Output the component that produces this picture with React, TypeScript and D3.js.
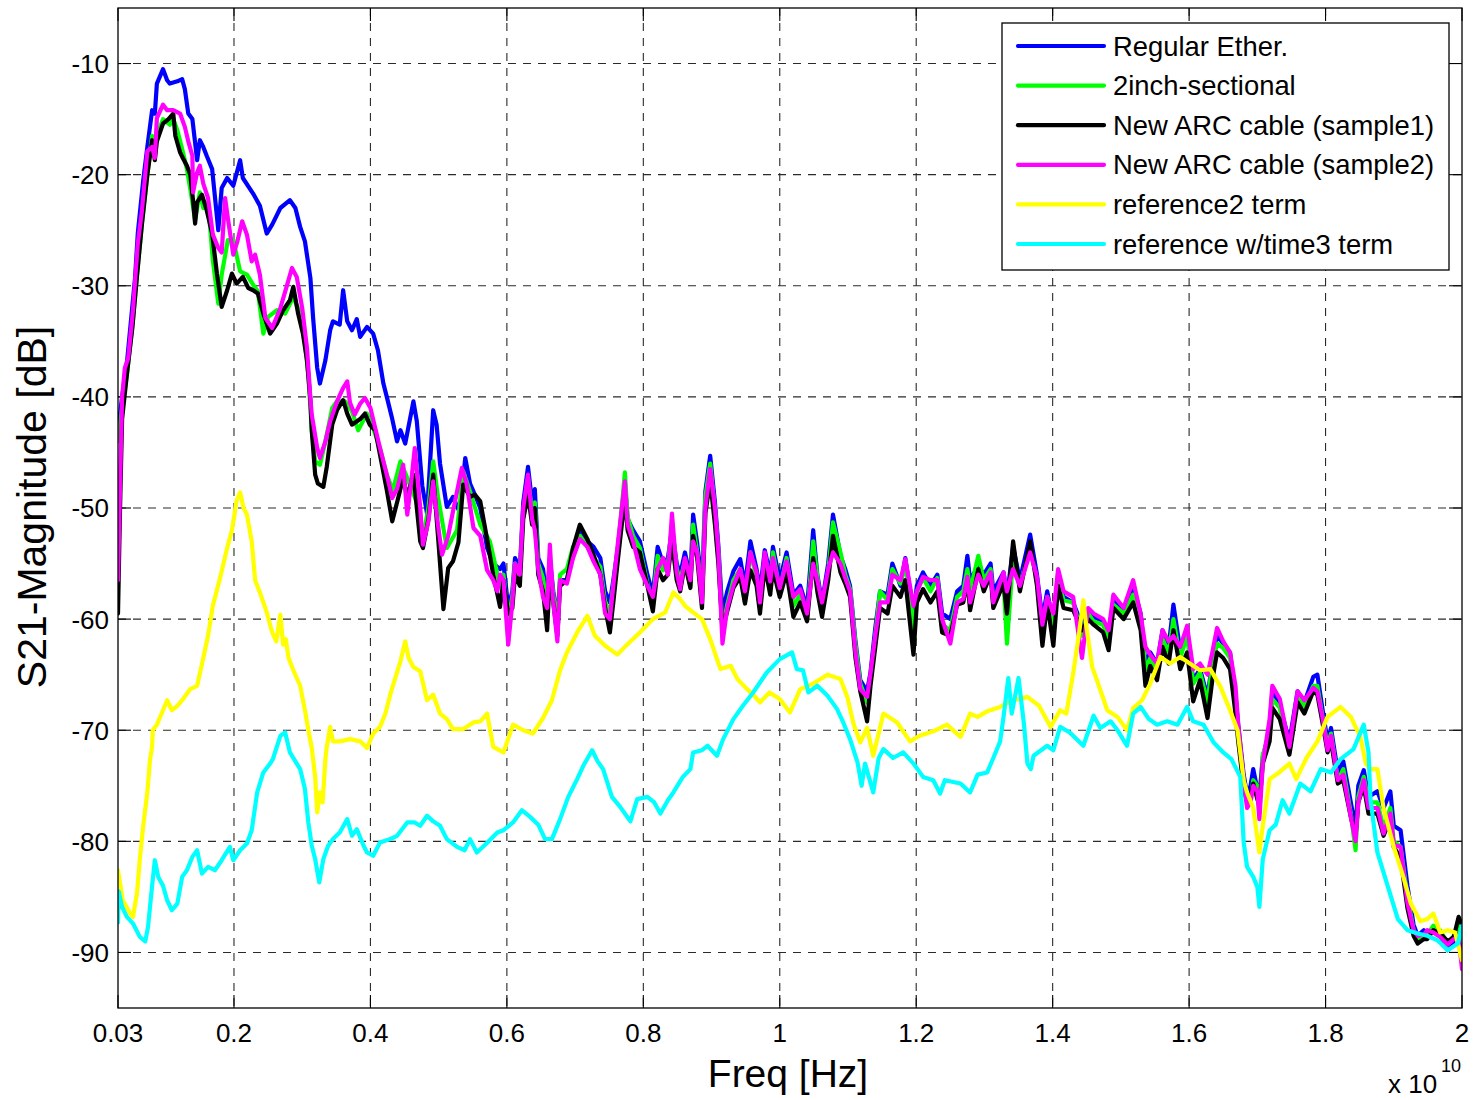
import React from "react";
import * as d3 from "d3";

type Pt = [number, number];

const xTicks = [0.03, 0.2, 0.4, 0.6, 0.8, 1, 1.2, 1.4, 1.6, 1.8, 2];
const xTickLabels = ["0.03", "0.2", "0.4", "0.6", "0.8", "1", "1.2", "1.4", "1.6", "1.8", "2"];
const yTicks = [-90, -80, -70, -60, -50, -40, -30, -20, -10];

const seriesNames = [
  "Regular Ether.",
  "2inch-sectional",
  "New ARC cable (sample1)",
  "New ARC cable (sample2)",
  "reference2 term",
  "reference w/time3 term",
];
const seriesColors = ["#0000ff", "#00ff00", "#000000", "#ff00ff", "#ffff00", "#00ffff"];

const regularEther: Pt[] = [
  [0.030,-43],[0.036,-40],[0.043,-37],[0.055,-29.3],[0.059,-25.3],[0.067,-20.5],[0.073,-17.5],[0.080,-14.2],[0.084,-14.5],[0.087,-11.8],[0.096,-10.5],[0.102,-11.5],[0.106,-11.8],[0.117,-11.6],[0.124,-11.4],[0.128,-12.3],[0.133,-14.5],[0.139,-15],[0.146,-18.7],[0.150,-16.9],[0.155,-17.5],[0.160,-18.3],[0.168,-19.5],[0.177,-25],[0.182,-21.2],[0.190,-20.3],[0.199,-21],[0.209,-18.7],[0.213,-20.3],[0.228,-21.7],[0.238,-22.8],[0.248,-25.3],[0.256,-24.5],[0.268,-23],[0.282,-22.3],[0.290,-23],[0.297,-24.7],[0.304,-26],[0.312,-29.3],[0.316,-32.9],[0.322,-37.4],[0.326,-38.8],[0.334,-36.7],[0.341,-34],[0.345,-33.2],[0.355,-33.5],[0.360,-30.4],[0.366,-33.2],[0.373,-34],[0.380,-33],[0.385,-34.6],[0.395,-33.7],[0.404,-34.3],[0.411,-35.8],[0.419,-38.8],[0.424,-40],[0.432,-42],[0.439,-44],[0.444,-43],[0.451,-44.2],[0.463,-40.4],[0.468,-42.2],[0.476,-48],[0.483,-50.5],[0.492,-41.2],[0.497,-42.5],[0.502,-46],[0.512,-49.9],[0.521,-49],[0.531,-50.4],[0.539,-45.5],[0.546,-47.8],[0.553,-48.8],[0.561,-50],[0.571,-53.6],[0.580,-55],
  [0.590,-55.5],[0.595,-55],[0.602,-59],[0.608,-57.5],[0.612,-54.5],[0.619,-55.5],[0.624,-49.5],[0.631,-46.3],[0.637,-49.5],[0.641,-48.3],[0.646,-54.5],[0.653,-55.5],[0.659,-58.5],[0.663,-54.5],[0.668,-57.5],[0.674,-60],[0.678,-56.5],[0.688,-56.5],[0.697,-53.8],[0.707,-51.8],[0.718,-53],[0.727,-53.5],[0.737,-54.5],[0.744,-57.5],[0.751,-58.5],[0.756,-56.5],[0.763,-53.4],[0.773,-47.8],[0.777,-51],[0.785,-52],[0.795,-53],[0.806,-56],[0.814,-57.8],[0.821,-53.5],[0.829,-55],[0.836,-54.5],[0.842,-52],[0.849,-55],[0.854,-56],[0.861,-54],[0.869,-56.3],[0.873,-50.6],[0.879,-53.2],[0.886,-57],[0.891,-48.5],[0.898,-45.3],[0.905,-49.5],[0.910,-53.4],[0.916,-59.5],[0.923,-57.5],[0.932,-55.7],[0.942,-54.6],[0.949,-57],[0.957,-53],[0.966,-55.5],[0.971,-57.5],[0.978,-53.8],[0.986,-56],[0.990,-53.5],[1.000,-56.5],[1.010,-54],[1.020,-57.8],[1.030,-57],[1.040,-59],[1.049,-52],[1.055,-56],[1.062,-58.5],[1.071,-55],[1.078,-50.6],[1.089,-54.3],[1.096,-55.5],[1.103,-57],[1.111,-62],[1.118,-65.5],[1.128,-66.5],[1.133,-64.8],[1.140,-60.8],[1.147,-57.5],[1.158,-57.8],[1.165,-55],[1.177,-57],[1.184,-54.5],[1.196,-59.5],[1.201,-57],[1.210,-55.8],[1.221,-57],[1.231,-56],[1.238,-59.5],[1.250,-60],[1.260,-57.5],[1.269,-57],[1.275,-54.3],[1.279,-56.5],[1.291,-55.2],[1.299,-56],[1.309,-55],[1.313,-57.5],[1.328,-55.8],[1.333,-58],[1.342,-53.5],[1.352,-56.5],[1.367,-52.4],[1.377,-56],[1.385,-60],[1.392,-57.5],[1.401,-60.5],[1.408,-56],[1.416,-58],[1.430,-58.5],[1.443,-60.5],[1.452,-59.2],[1.460,-59.8],[1.474,-60.2],[1.482,-61.5],[1.489,-58.3],[1.504,-59.2],[1.518,-57],[1.529,-59.5],[1.536,-64],[1.543,-63],[1.553,-64],[1.561,-61],[1.570,-62.5],[1.577,-58.7],[1.587,-62.8],[1.597,-61],[1.606,-65.5],[1.616,-64.5],[1.627,-67],[1.634,-63.8],[1.641,-61.5],[1.650,-62.2],[1.660,-63],[1.668,-66.8],[1.672,-69.5],[1.680,-74],[1.685,-75.8],[1.690,-75],[1.694,-73.5],[1.700,-75.3],[1.703,-76],[1.708,-72.4],[1.718,-70],[1.722,-66.5],[1.733,-67.8],[1.747,-71],[1.759,-66.5],[1.769,-67.5],[1.782,-65.2],[1.788,-65],[1.796,-68.3],[1.803,-71],[1.808,-69.8],[1.818,-73.8],[1.826,-72.8],[1.837,-76.5],[1.844,-78.8],[1.848,-75],[1.856,-73.6],[1.863,-76],[1.876,-75.5],[1.885,-77],[1.895,-75.5],[1.900,-78.6],[1.910,-79],[1.920,-84],[1.929,-87.5],[1.935,-88.5],[1.944,-88],[1.949,-88.3],[1.958,-87.8],[1.968,-88.5],[1.979,-89.8],[1.988,-89],[1.995,-88],[2.000,-90],
];

const twoInchSectional: Pt[] = [
  [0.030,-44],[0.036,-41],[0.043,-38],[0.052,-33],[0.058,-29],[0.065,-24.5],[0.073,-20],[0.080,-16.5],[0.084,-18],[0.087,-16.5],[0.096,-15],[0.106,-15.5],[0.111,-15],[0.117,-16],[0.124,-17.7],[0.131,-19.5],[0.136,-21.3],[0.143,-24.1],[0.150,-21.6],[0.155,-23],[0.162,-22.5],[0.169,-27.7],[0.177,-31.6],[0.182,-29],[0.191,-25.9],[0.199,-25.9],[0.209,-28.7],[0.219,-29],[0.228,-29.9],[0.235,-30.5],[0.243,-34.3],[0.250,-32.8],[0.263,-32.2],[0.275,-32.5],[0.287,-31],[0.297,-32.5],[0.304,-35.2],[0.309,-38],[0.314,-43],[0.319,-45.8],[0.326,-46.1],[0.334,-44],[0.344,-41],[0.351,-40.4],[0.363,-40.4],[0.373,-41.3],[0.382,-43],[0.395,-41.5],[0.404,-42.8],[0.414,-44.6],[0.424,-47],[0.433,-48.4],[0.444,-45.8],[0.454,-47.3],[0.468,-49.5],[0.477,-52.7],[0.485,-50],[0.492,-45.8],[0.499,-49],[0.512,-53.6],[0.527,-52],[0.536,-46.7],[0.546,-48.5],[0.561,-51.5],[0.575,-53],[0.590,-57],
  [0.595,-56],[0.602,-60],[0.608,-58],[0.612,-55],[0.619,-56],[0.624,-50.5],[0.631,-47.3],[0.637,-50.5],[0.641,-49.5],[0.646,-55],[0.653,-56.3],[0.659,-59],[0.663,-55],[0.668,-57.8],[0.674,-60.5],[0.678,-56],[0.688,-55.5],[0.697,-53.5],[0.707,-52.5],[0.718,-53.5],[0.727,-54.5],[0.737,-55.3],[0.744,-58.5],[0.751,-59.5],[0.756,-57],[0.763,-53.6],[0.773,-46.8],[0.777,-50.8],[0.785,-52.5],[0.795,-53.6],[0.806,-56.8],[0.814,-58.5],[0.821,-54.3],[0.829,-55.6],[0.836,-55.2],[0.842,-51.5],[0.849,-55.5],[0.854,-56.5],[0.861,-54.8],[0.869,-57],[0.873,-51.5],[0.879,-54],[0.886,-58],[0.891,-49],[0.898,-46],[0.905,-50.3],[0.910,-54],[0.916,-61],[0.923,-58.7],[0.932,-56.5],[0.942,-55.5],[0.949,-58.5],[0.957,-54],[0.966,-56.2],[0.971,-58.7],[0.978,-54.6],[0.986,-57],[0.990,-54],[1.000,-57.5],[1.010,-54.5],[1.020,-58.8],[1.030,-57.8],[1.040,-60],[1.049,-53],[1.055,-56.2],[1.062,-59.5],[1.071,-55.8],[1.078,-51.3],[1.089,-54],[1.096,-56],[1.103,-57.3],[1.111,-62.3],[1.118,-65.8],[1.128,-67.5],[1.133,-65.5],[1.140,-61.5],[1.147,-57.5],[1.158,-58.3],[1.165,-55.5],[1.177,-56.8],[1.184,-54.8],[1.196,-61],[1.201,-57.5],[1.210,-56.3],[1.221,-57.5],[1.231,-56.3],[1.238,-60.5],[1.250,-61],[1.260,-58],[1.269,-57.5],[1.275,-55.5],[1.279,-57.5],[1.291,-54.3],[1.299,-56.5],[1.309,-55.5],[1.313,-58.5],[1.328,-56.5],[1.333,-62.2],[1.342,-54.5],[1.352,-57],[1.367,-53.5],[1.377,-56.5],[1.385,-61],[1.392,-58],[1.401,-60.8],[1.408,-56.5],[1.416,-58.3],[1.430,-58.5],[1.443,-61.5],[1.452,-59.5],[1.460,-60.2],[1.474,-60.5],[1.482,-61.8],[1.489,-58.7],[1.504,-59.5],[1.518,-57.8],[1.529,-60],[1.536,-64.5],[1.543,-63.5],[1.553,-64.8],[1.561,-61.8],[1.570,-63],[1.577,-60],[1.587,-63.5],[1.597,-61.5],[1.606,-65.8],[1.616,-64.8],[1.627,-67.5],[1.634,-64],[1.641,-62.2],[1.650,-62.6],[1.660,-63.5],[1.668,-67.5],[1.672,-70.3],[1.680,-74.8],[1.685,-76.3],[1.690,-76.5],[1.694,-74.5],[1.700,-75],[1.703,-77.5],[1.708,-72.2],[1.718,-70.5],[1.722,-67.2],[1.733,-68],[1.747,-72],[1.759,-67],[1.769,-67.8],[1.782,-66],[1.788,-66],[1.796,-69],[1.803,-71.5],[1.808,-70.3],[1.818,-74.5],[1.826,-73.5],[1.837,-77.5],[1.844,-80.8],[1.848,-76],[1.856,-74.2],[1.863,-76.5],[1.876,-76.5],[1.885,-78.8],[1.895,-77],[1.900,-80],[1.910,-80.5],[1.920,-85],[1.929,-88],[1.935,-88.8],[1.944,-88.6],[1.949,-88.4],[1.958,-87.6],[1.968,-88],[1.979,-89.2],[1.988,-88.5],[1.995,-87.5],[2.000,-89],
];

const arcSample1: Pt[] = [
  [0.030,-59.5],[0.033,-50],[0.036,-42],[0.043,-38],[0.051,-33.8],[0.058,-29],[0.065,-24.5],[0.073,-20],[0.080,-16.9],[0.084,-18.7],[0.087,-17],[0.096,-15.4],[0.104,-15],[0.111,-14.5],[0.114,-16.5],[0.121,-18],[0.125,-18.5],[0.131,-19.2],[0.136,-20],[0.140,-22.3],[0.143,-24.4],[0.146,-22.5],[0.153,-21.8],[0.160,-23.2],[0.168,-25.3],[0.175,-28.9],[0.182,-31.9],[0.190,-30.4],[0.197,-28.9],[0.204,-29.8],[0.213,-29.2],[0.221,-30.2],[0.228,-30.4],[0.235,-30.7],[0.243,-32.5],[0.253,-34.3],[0.263,-33.4],[0.272,-32.2],[0.282,-31.3],[0.287,-30.1],[0.294,-32.5],[0.301,-34.3],[0.307,-36.7],[0.312,-40.3],[0.314,-43],[0.319,-47],[0.323,-47.8],[0.331,-48.1],[0.336,-46.3],[0.344,-42.5],[0.351,-41.2],[0.360,-40.3],[0.366,-41.5],[0.373,-42.5],[0.385,-42],[0.392,-41.5],[0.399,-42.5],[0.407,-43],[0.414,-45.2],[0.424,-48.4],[0.432,-51.2],[0.439,-49.5],[0.448,-47.3],[0.454,-49],[0.463,-47],[0.473,-53],[0.477,-53.6],[0.485,-51],[0.492,-47],[0.499,-52.5],[0.507,-59.1],[0.514,-55.4],[0.521,-54.8],[0.529,-53.1],[0.536,-47.9],[0.546,-49],[0.553,-48.8],[0.561,-49.4],[0.571,-52.8],[0.580,-56],[0.590,-58.9],
  [0.595,-56.5],[0.602,-59.5],[0.608,-59],[0.612,-56],[0.619,-57],[0.624,-51],[0.631,-48.8],[0.637,-51.5],[0.641,-50],[0.646,-56],[0.653,-57.5],[0.659,-61],[0.663,-56],[0.668,-58.5],[0.674,-61.5],[0.678,-57],[0.688,-56.5],[0.697,-53.6],[0.707,-51.5],[0.718,-52.8],[0.727,-54.2],[0.737,-56],[0.744,-59],[0.751,-61.2],[0.756,-58.5],[0.763,-54.5],[0.773,-49],[0.777,-52],[0.785,-53.5],[0.795,-54],[0.806,-57],[0.814,-59.3],[0.821,-55.5],[0.829,-56.5],[0.836,-56],[0.842,-53],[0.849,-56.5],[0.854,-57.5],[0.861,-55],[0.869,-57.2],[0.873,-52.5],[0.879,-54.5],[0.886,-59],[0.891,-50.5],[0.898,-47.5],[0.905,-51.5],[0.910,-55],[0.916,-61],[0.923,-59.3],[0.932,-57.2],[0.942,-56.2],[0.949,-58.6],[0.957,-55.6],[0.966,-57],[0.971,-59.5],[0.978,-55.2],[0.986,-57.8],[0.990,-55.5],[1.000,-58],[1.010,-55.8],[1.020,-59.8],[1.030,-58.5],[1.040,-60.2],[1.049,-54.5],[1.055,-57.5],[1.062,-59.8],[1.071,-56.5],[1.078,-52.5],[1.089,-55.8],[1.096,-56.8],[1.103,-58],[1.111,-63.5],[1.118,-66.5],[1.128,-69.2],[1.133,-66],[1.140,-62.5],[1.147,-59],[1.158,-59.5],[1.165,-57],[1.177,-58],[1.184,-56.5],[1.196,-63.2],[1.201,-58.5],[1.210,-57.3],[1.221,-58.5],[1.231,-57.5],[1.238,-61.2],[1.250,-61.5],[1.260,-58.7],[1.269,-58.5],[1.275,-56.5],[1.279,-59.2],[1.291,-55.5],[1.299,-57.5],[1.309,-56],[1.313,-59],[1.328,-56.8],[1.333,-59.5],[1.342,-53],[1.352,-57.5],[1.367,-53],[1.377,-57],[1.385,-62.4],[1.392,-58.5],[1.401,-62.4],[1.408,-57],[1.416,-59],[1.430,-59.2],[1.443,-61],[1.452,-60],[1.460,-60.5],[1.474,-61.2],[1.482,-62.8],[1.489,-59],[1.504,-60],[1.518,-58.5],[1.529,-61],[1.536,-66],[1.543,-64.2],[1.553,-65.5],[1.561,-62.5],[1.570,-64],[1.577,-61],[1.587,-64.5],[1.597,-63],[1.606,-67.4],[1.616,-65.5],[1.627,-68.9],[1.634,-65.5],[1.641,-63],[1.650,-63.5],[1.660,-64.5],[1.668,-68.5],[1.672,-71],[1.680,-75.2],[1.685,-76.5],[1.690,-76],[1.694,-74.8],[1.700,-76.2],[1.703,-76.8],[1.708,-73],[1.718,-71],[1.722,-68],[1.733,-69],[1.747,-72.2],[1.759,-67.5],[1.769,-68.5],[1.782,-66.5],[1.788,-66.8],[1.796,-69.5],[1.803,-72],[1.808,-71],[1.818,-74.8],[1.826,-74.5],[1.837,-77.8],[1.844,-79.5],[1.848,-76.5],[1.856,-75],[1.863,-77.5],[1.876,-77.5],[1.885,-79.5],[1.895,-78],[1.900,-80.5],[1.910,-81.5],[1.920,-86],[1.929,-88.5],[1.935,-89.2],[1.944,-88.8],[1.949,-88.8],[1.958,-88],[1.968,-88.3],[1.979,-89],[1.988,-88.6],[1.995,-86.8],[2.000,-87.5],
];

const arcSample2: Pt[] = [
  [0.030,-56.5],[0.033,-48],[0.036,-40],[0.040,-37.4],[0.045,-36.5],[0.052,-32.2],[0.059,-26.2],[0.065,-23.3],[0.073,-17.9],[0.080,-17.5],[0.084,-18.5],[0.087,-14.9],[0.096,-13.7],[0.102,-14.2],[0.111,-14.2],[0.121,-14.5],[0.128,-15.7],[0.133,-17],[0.139,-18.3],[0.140,-21.6],[0.146,-19.8],[0.150,-19.2],[0.155,-20.8],[0.162,-22.1],[0.169,-25.4],[0.177,-26.6],[0.182,-27],[0.187,-22.1],[0.191,-23.9],[0.199,-27.2],[0.205,-26],[0.212,-24.2],[0.219,-25.4],[0.226,-27.8],[0.231,-27.2],[0.238,-29],[0.246,-32.9],[0.256,-33.8],[0.268,-32],[0.278,-29.9],[0.285,-28.4],[0.292,-29.2],[0.300,-32],[0.307,-35.6],[0.312,-40.1],[0.314,-41.6],[0.322,-44.6],[0.326,-45.5],[0.334,-44],[0.341,-42.2],[0.351,-40.4],[0.360,-39.2],[0.366,-38.6],[0.370,-40.5],[0.377,-41.6],[0.385,-40.6],[0.392,-40.1],[0.400,-41],[0.407,-42.8],[0.414,-44.6],[0.424,-47],[0.432,-49.1],[0.439,-48.3],[0.448,-46.1],[0.454,-50.6],[0.460,-47.5],[0.465,-44.6],[0.473,-50],[0.477,-53.3],[0.485,-51.2],[0.492,-47.6],[0.499,-51.5],[0.505,-54.2],[0.514,-52.5],[0.521,-50.3],[0.534,-46.4],[0.541,-47.8],[0.551,-51.8],[0.561,-52.5],[0.571,-55.6],[0.580,-56.5],[0.586,-57.5],[0.590,-56],
  [0.595,-56.5],[0.602,-62.3],[0.608,-58.5],[0.612,-55],[0.619,-56],[0.624,-50],[0.631,-47],[0.637,-51],[0.641,-52],[0.646,-55.5],[0.653,-58],[0.659,-59],[0.663,-53.3],[0.668,-58.5],[0.674,-62],[0.678,-56.5],[0.688,-56.8],[0.697,-54.5],[0.707,-52.8],[0.718,-53.5],[0.727,-54.8],[0.737,-56],[0.744,-59.5],[0.751,-60],[0.756,-57],[0.763,-53],[0.773,-47.6],[0.777,-51.5],[0.785,-53],[0.795,-55.5],[0.806,-57],[0.814,-58],[0.821,-55.5],[0.829,-54.5],[0.836,-56],[0.842,-50.5],[0.849,-55.8],[0.854,-57.3],[0.861,-54.5],[0.869,-56.5],[0.873,-53],[0.879,-54],[0.886,-58.5],[0.891,-50],[0.898,-46.5],[0.905,-50],[0.910,-54],[0.916,-62.2],[0.923,-59],[0.932,-57],[0.942,-55.5],[0.949,-57.5],[0.957,-54],[0.966,-55.8],[0.971,-58.5],[0.978,-54],[0.986,-56.6],[0.990,-54.5],[1.000,-57.2],[1.010,-54.8],[1.020,-58],[1.030,-57.3],[1.040,-59.5],[1.049,-55],[1.055,-56.5],[1.062,-58.5],[1.071,-55.5],[1.078,-54],[1.089,-55],[1.096,-56.3],[1.103,-57.5],[1.111,-63],[1.118,-66.3],[1.128,-67],[1.133,-64.9],[1.140,-61.5],[1.147,-58.5],[1.158,-58.5],[1.165,-56],[1.177,-56.5],[1.184,-54.6],[1.196,-58.8],[1.201,-57.5],[1.210,-56.2],[1.221,-56.5],[1.231,-56.5],[1.238,-60],[1.250,-62.2],[1.260,-58.5],[1.269,-58.2],[1.275,-56.2],[1.279,-58.5],[1.291,-56],[1.299,-57],[1.309,-55.8],[1.313,-58.5],[1.328,-55.8],[1.333,-57.5],[1.342,-55.5],[1.352,-57],[1.367,-54],[1.377,-56.2],[1.385,-60.5],[1.392,-58],[1.401,-59.5],[1.408,-55.5],[1.416,-57.5],[1.430,-58],[1.443,-63.5],[1.452,-59],[1.460,-59.5],[1.474,-60],[1.482,-61],[1.489,-57.8],[1.504,-59],[1.518,-56.5],[1.529,-59.6],[1.536,-62.5],[1.543,-63.2],[1.553,-64],[1.561,-61],[1.570,-62],[1.577,-61.5],[1.587,-62.5],[1.597,-60.6],[1.606,-64.5],[1.616,-64],[1.627,-65],[1.634,-63],[1.641,-60.8],[1.650,-62],[1.660,-63],[1.668,-66],[1.672,-69.5],[1.680,-74.5],[1.685,-77],[1.690,-76.5],[1.694,-75],[1.700,-75.5],[1.703,-78],[1.708,-73],[1.718,-69],[1.722,-66],[1.733,-67.2],[1.747,-71.5],[1.759,-66.5],[1.769,-67.3],[1.782,-66.2],[1.788,-66.5],[1.796,-69],[1.803,-71.8],[1.808,-70.5],[1.818,-74.5],[1.826,-74],[1.837,-77.8],[1.844,-80],[1.848,-76.5],[1.856,-74.5],[1.863,-77],[1.876,-77],[1.885,-79.3],[1.895,-77.5],[1.900,-80.3],[1.910,-80.5],[1.920,-85.5],[1.929,-88],[1.935,-88.5],[1.944,-88.4],[1.949,-88],[1.958,-88.2],[1.968,-88.6],[1.979,-89.3],[1.988,-88.8],[1.995,-88.5],[2.000,-91.5],
];

const reference2Term: Pt[] = [
  [0.030,-82.6],[0.037,-85.3],[0.048,-86.5],[0.052,-86.8],[0.058,-84.6],[0.062,-81.6],[0.067,-78.6],[0.073,-75.6],[0.077,-72.6],[0.080,-71.5],[0.081,-70],[0.087,-69.5],[0.096,-68.2],[0.102,-67.3],[0.109,-68.2],[0.117,-67.8],[0.124,-67.3],[0.136,-66.3],[0.146,-66],[0.155,-63.5],[0.162,-61.5],[0.169,-58.8],[0.180,-56.2],[0.190,-53.6],[0.197,-52],[0.204,-49.3],[0.209,-48.6],[0.214,-50],[0.219,-50.6],[0.226,-53],[0.231,-56.5],[0.238,-57.6],[0.248,-59.4],[0.256,-61.2],[0.262,-62],[0.268,-59.6],[0.272,-62.3],[0.276,-61.8],[0.280,-63.5],[0.287,-64.6],[0.297,-66],[0.304,-68.2],[0.309,-70],[0.314,-71.6],[0.319,-74.2],[0.322,-77.4],[0.326,-75.6],[0.330,-76.5],[0.334,-72.6],[0.336,-71.5],[0.341,-69.7],[0.345,-71],[0.355,-71],[0.370,-70.8],[0.385,-71],[0.395,-71.6],[0.404,-70.3],[0.414,-69.7],[0.422,-68.5],[0.429,-66.8],[0.439,-64.8],[0.444,-63.8],[0.451,-62],[0.456,-63.5],[0.463,-64.3],[0.473,-64.7],[0.483,-67.3],[0.492,-66.8],[0.502,-68.5],[0.512,-69],[0.521,-69.9],[0.536,-69.9],[0.551,-69.3],[0.561,-69.2],[0.571,-68.5],[0.580,-71.5],[0.595,-72],[0.609,-69.5],[0.624,-70],[0.638,-70.3],[0.653,-68.9],[0.666,-67.3],[0.678,-64.6],[0.688,-63],[0.703,-61.2],[0.718,-59.7],[0.729,-61.5],[0.744,-62.4],[0.762,-63.2],[0.776,-62.3],[0.795,-61.2],[0.814,-60],[0.832,-59.4],[0.844,-57.6],[0.854,-58.2],[0.861,-58.8],[0.873,-59.4],[0.886,-60],[0.898,-61.8],[0.913,-64.5],[0.928,-64.2],[0.938,-65.4],[0.952,-66.3],[0.961,-66.8],[0.971,-67.5],[0.985,-66.6],[1.000,-67.2],[1.015,-68.4],[1.030,-66.3],[1.049,-65.8],[1.070,-65],[1.089,-65.4],[1.099,-67],[1.108,-69.4],[1.118,-71.1],[1.128,-69.8],[1.137,-72.3],[1.152,-68.5],[1.172,-69.3],[1.191,-71],[1.205,-70.5],[1.225,-70.1],[1.245,-69.5],[1.265,-70.6],[1.279,-68.5],[1.290,-68.8],[1.304,-68.3],[1.323,-67.9],[1.342,-67.3],[1.363,-67],[1.380,-67.8],[1.397,-69.7],[1.411,-68.2],[1.420,-68.5],[1.430,-64.9],[1.438,-61.6],[1.445,-58.3],[1.449,-60.5],[1.458,-64.3],[1.470,-66.4],[1.480,-68.2],[1.495,-68.8],[1.509,-70],[1.518,-68],[1.531,-67.3],[1.543,-65.8],[1.558,-63.4],[1.572,-64],[1.587,-63.4],[1.601,-64],[1.616,-64.6],[1.631,-64.5],[1.646,-66.1],[1.660,-68.2],[1.671,-70],[1.680,-74.5],[1.685,-75.6],[1.694,-77],[1.703,-81],[1.708,-78.6],[1.718,-74.4],[1.732,-73.8],[1.747,-73],[1.757,-74.4],[1.772,-72.5],[1.788,-71],[1.803,-68.8],[1.822,-67.9],[1.837,-68.8],[1.851,-70.6],[1.859,-73],[1.866,-73.5],[1.876,-73.5],[1.885,-77],[1.900,-80.5],[1.914,-83.2],[1.925,-85.6],[1.939,-87.2],[1.949,-87],[1.958,-86.5],[1.968,-88.2],[1.979,-88],[1.990,-88.2],[2.000,-90.7],
];

const referenceTime3Term: Pt[] = [
  [0.030,-87.3],[0.031,-84.5],[0.036,-85.9],[0.043,-86.8],[0.052,-87.4],[0.062,-88.6],[0.070,-89],[0.074,-87.7],[0.080,-84],[0.084,-81.7],[0.089,-83.2],[0.096,-84],[0.102,-85.3],[0.109,-86.2],[0.117,-85.6],[0.124,-83.2],[0.131,-82.6],[0.139,-81.4],[0.146,-80.8],[0.153,-82.9],[0.162,-82.3],[0.172,-82.6],[0.182,-81.7],[0.194,-80.5],[0.199,-81.7],[0.209,-80.8],[0.219,-80.2],[0.226,-79],[0.234,-75.6],[0.243,-73.8],[0.253,-73],[0.257,-72.6],[0.268,-70.5],[0.275,-70.2],[0.282,-72],[0.290,-72.8],[0.297,-73.5],[0.304,-75.3],[0.309,-78.3],[0.314,-80.4],[0.319,-81.6],[0.325,-83.7],[0.331,-81.6],[0.338,-80.4],[0.345,-79.8],[0.355,-79.2],[0.366,-78],[0.373,-79.5],[0.380,-78.9],[0.390,-80.4],[0.395,-81],[0.404,-81.3],[0.414,-80.1],[0.429,-79.8],[0.439,-79.5],[0.454,-78.3],[0.465,-78.3],[0.473,-78.6],[0.483,-77.7],[0.492,-78.2],[0.502,-78.6],[0.512,-79.8],[0.527,-80.5],[0.538,-80.8],[0.546,-79.8],[0.556,-81],[0.570,-80.2],[0.586,-79.2],[0.595,-79],[0.609,-78.3],[0.622,-77.2],[0.634,-77.8],[0.646,-78.5],[0.656,-79.8],[0.666,-79.8],[0.678,-78],[0.690,-76],[0.703,-74.4],[0.712,-73.2],[0.725,-71.8],[0.733,-72.8],[0.741,-73.5],[0.754,-76],[0.766,-76.9],[0.781,-78.2],[0.791,-76.2],[0.806,-76],[0.816,-76.5],[0.825,-77.5],[0.836,-76.3],[0.844,-75.6],[0.858,-74.2],[0.869,-73.5],[0.873,-72],[0.886,-71.8],[0.894,-71.4],[0.908,-72.3],[0.917,-70.8],[0.932,-69],[0.946,-67.8],[0.961,-66.6],[0.981,-64.8],[1.000,-63.6],[1.018,-63],[1.025,-64.5],[1.034,-64.6],[1.042,-66.6],[1.055,-66],[1.070,-66.9],[1.084,-68.1],[1.093,-69.3],[1.103,-70.8],[1.114,-72.9],[1.120,-75],[1.125,-73],[1.137,-75.6],[1.145,-72.5],[1.152,-71.7],[1.166,-72.5],[1.181,-72],[1.196,-73],[1.210,-74.2],[1.225,-74.5],[1.235,-75.7],[1.242,-74.5],[1.265,-74.8],[1.279,-75.6],[1.290,-74],[1.304,-73.8],[1.313,-72.5],[1.323,-71],[1.328,-68.8],[1.335,-65.3],[1.340,-68.5],[1.350,-65.3],[1.358,-69.5],[1.363,-73],[1.368,-73.5],[1.372,-72.3],[1.392,-71.4],[1.401,-71.8],[1.411,-69.7],[1.425,-70.2],[1.445,-71.4],[1.460,-68.7],[1.470,-69.8],[1.485,-69.2],[1.495,-70],[1.509,-71.4],[1.518,-68.5],[1.529,-67.9],[1.541,-69],[1.553,-69.5],[1.568,-69.2],[1.583,-69.5],[1.597,-67.9],[1.606,-69.2],[1.621,-69.5],[1.636,-71.1],[1.650,-72],[1.662,-72.6],[1.675,-74.2],[1.680,-80.1],[1.685,-82.3],[1.694,-83.2],[1.700,-84.1],[1.703,-85.9],[1.708,-81.6],[1.718,-79],[1.727,-78.5],[1.737,-76.3],[1.747,-77.5],[1.763,-74.8],[1.778,-75.5],[1.793,-73.5],[1.808,-73.8],[1.822,-72.6],[1.841,-71.7],[1.856,-69.5],[1.863,-72],[1.866,-76.3],[1.876,-81],[1.891,-84],[1.906,-87],[1.920,-88],[1.935,-88.3],[1.949,-88.5],[1.964,-88.9],[1.979,-89.8],[1.994,-89.2],[2.000,-87.6],
];

const allSeries = [regularEther, twoInchSectional, arcSample1, arcSample2, reference2Term, referenceTime3Term];

const W = 1473;
const H = 1100;
const M = { left: 118, top: 8, right: 1462, bottom: 1008 };
const FONT = "'Liberation Sans', Arial, Helvetica, sans-serif";

export default function App() {
  const x = d3.scaleLinear().domain([0.03, 2]).range([M.left, M.right]);
  const y = d3.scaleLinear().domain([-95, -5]).range([M.bottom, M.top]);
  const line = d3
    .line<Pt>()
    .x((d) => x(d[0]))
    .y((d) => y(d[1]));
  const tickLen = 13;

  const legendX = 1002;
  const legendY = 23;
  const legendRow = 39.6;

  return (
    <svg
      width={W}
      height={H}
      style={{ position: "absolute", left: 0, top: 0, background: "#fff" }}
      fontFamily={FONT}
    >
      <rect x={0} y={0} width={W} height={H} fill="#fff" />
      <defs>
        <clipPath id="plotclip">
          <rect x={M.left} y={M.top} width={M.right - M.left} height={M.bottom - M.top} />
        </clipPath>
      </defs>
      {/* grid */}
      <g stroke="#2a2a2a" strokeWidth={1.1} strokeDasharray="8,7">
        {xTicks.slice(1, -1).map((t) => (
          <line key={"gx" + t} x1={x(t)} x2={x(t)} y1={M.top} y2={M.bottom} />
        ))}
        {yTicks.map((t) => (
          <line key={"gy" + t} x1={M.left} x2={M.right} y1={y(t)} y2={y(t)} />
        ))}
      </g>
      {/* ticks */}
      <g stroke="#000" strokeWidth={1.1}>
        {xTicks.map((t) => (
          <g key={"tx" + t}>
            <line x1={x(t)} x2={x(t)} y1={M.bottom} y2={M.bottom - tickLen} />
            <line x1={x(t)} x2={x(t)} y1={M.top} y2={M.top + tickLen} />
          </g>
        ))}
        {yTicks.map((t) => (
          <g key={"ty" + t}>
            <line x1={M.left} x2={M.left + tickLen} y1={y(t)} y2={y(t)} />
            <line x1={M.right} x2={M.right - tickLen} y1={y(t)} y2={y(t)} />
          </g>
        ))}
      </g>
      {/* series */}
      <g clipPath="url(#plotclip)" fill="none" strokeWidth={4.2} strokeLinejoin="round" strokeLinecap="round">
        {allSeries.map((s, i) => (
          <path key={"s" + i} d={line(s) || ""} stroke={seriesColors[i]} />
        ))}
      </g>
      {/* box */}
      <rect
        x={M.left}
        y={M.top}
        width={M.right - M.left}
        height={M.bottom - M.top}
        fill="none"
        stroke="#000"
        strokeWidth={1.3}
      />
      {/* tick labels */}
      <g fontSize={26} fill="#000">
        {xTicks.map((t, i) => (
          <text key={"lx" + t} x={x(t)} y={1042} textAnchor="middle">
            {xTickLabels[i]}
          </text>
        ))}
        {yTicks.map((t) => (
          <text key={"ly" + t} x={M.left - 9} y={y(t) + 9.4} textAnchor="end">
            {t}
          </text>
        ))}
      </g>
      {/* exponent */}
      <text x={1388} y={1093} fontSize={26} fill="#000">
        x 10
      </text>
      <text x={1441} y={1072} fontSize={18} fill="#000">
        10
      </text>
      {/* axis titles */}
      <text x={788} y={1087} fontSize={39} textAnchor="middle" fill="#000">
        Freq [Hz]
      </text>
      <text
        transform="translate(46,507) rotate(-90)"
        fontSize={41}
        textAnchor="middle"
        fill="#000"
      >
        S21-Magnitude [dB]
      </text>
      {/* legend */}
      <rect x={legendX} y={legendY} width={447} height={247} fill="#fff" stroke="#000" strokeWidth={1.3} />
      {seriesNames.map((n, i) => {
        const ly = 46 + i * legendRow;
        return (
          <g key={"lg" + i}>
            <line x1={1018} x2={1104} y1={ly} y2={ly} stroke={seriesColors[i]} strokeWidth={4.2} strokeLinecap="round" />
            <text x={1113} y={ly + 9.5} fontSize={27.4} fill="#000">
              {n}
            </text>
          </g>
        );
      })}
    </svg>
  );
}
